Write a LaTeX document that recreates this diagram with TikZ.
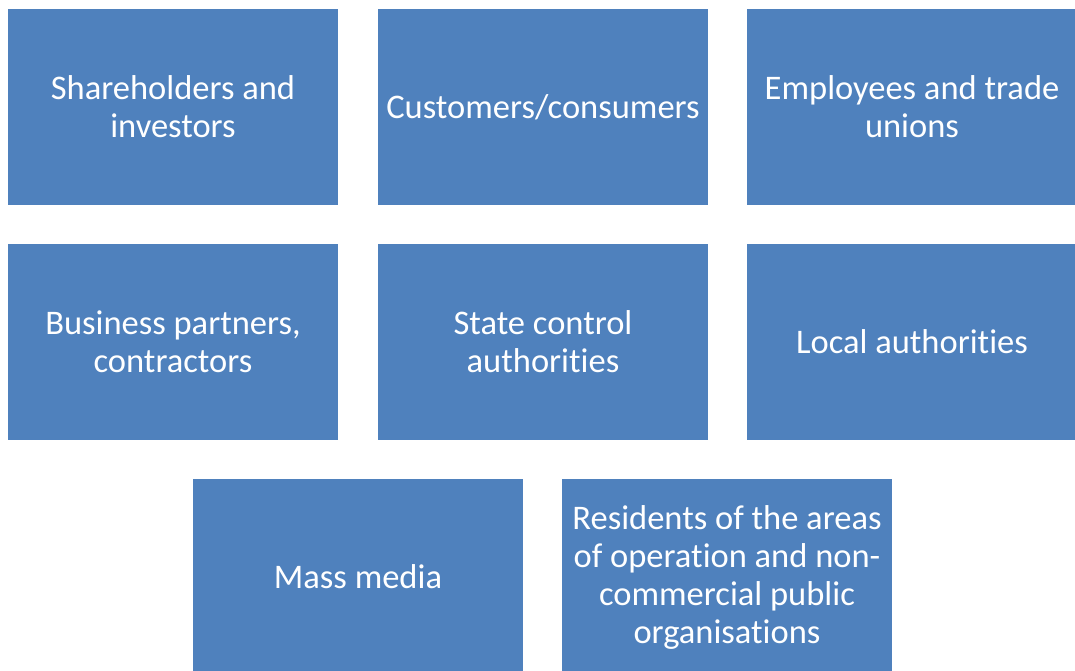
\documentclass[tikz,border=0pt]{standalone}
\usepackage{fontspec}
\setmainfont[Ligatures=NoCommon]{Carlito}
\usepackage{xcolor}
\definecolor{boxblue}{HTML}{4F81BD}
\usetikzlibrary{positioning}

\begin{document}
\begin{tikzpicture}[x=1pt,y=-1pt, every node/.style={font=\fontsize{34.5}{38}\selectfont}]
\tikzset{group/.style={fill=boxblue,draw=none,text=white,align=center,inner sep=0pt,minimum width=330pt,minimum height=196pt}}
\useasboundingbox (0,0) rectangle (1075,671);
\node[group] (share) at (173,107) {Shareholders and\\investors};
\node[group] (cust) at (543,107) {Customers/consumers};
\node[group] (empl) at (912,107) {Employees and trade\\unions};
\node[group] (bus) at (173,342) {Business partners,\\contractors};
\node[group] (state) at (543,342) {State control\\authorities};
\node[group] (local) at (912,342) {Local authorities};
\node[group] (media) at (358,577) {Mass media};
\node[group] (resid) at (727,577) {Residents of the areas\\of operation and non-\\commercial public\\organisations};
\end{tikzpicture}
\end{document}
